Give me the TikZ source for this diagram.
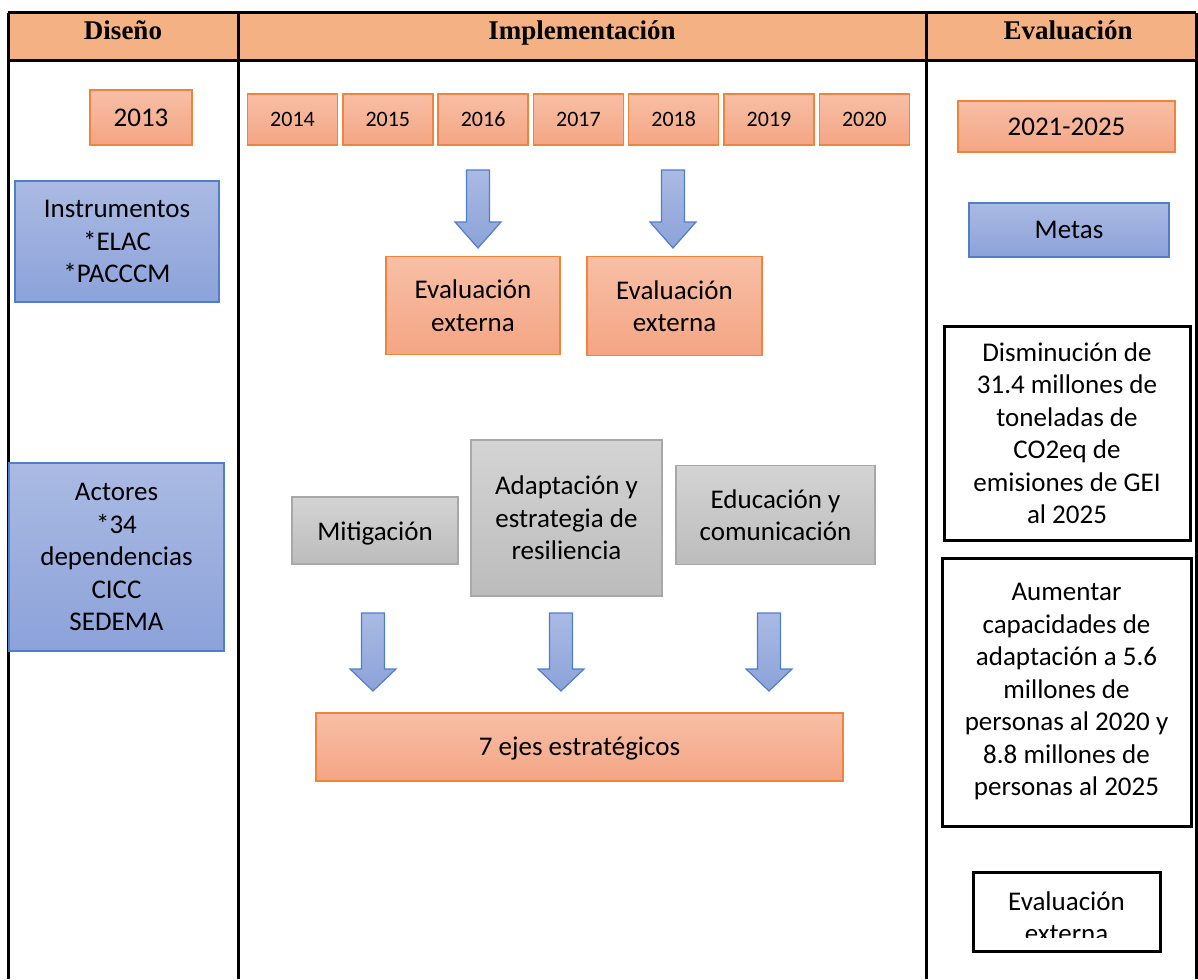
\documentclass[tikz,border=0pt]{standalone}
\usepackage{fontspec}
\setmainfont{Carlito}
\newfontfamily\hdrfont{Liberation Serif}
\usetikzlibrary{positioning}
\definecolor{hdrorange}{HTML}{F4B183}
\definecolor{orline}{HTML}{F0843C}
\definecolor{ortop}{HTML}{F8BFA6}
\definecolor{orbot}{HTML}{F4A584}
\definecolor{blline}{HTML}{4F7FCB}
\definecolor{bltop}{HTML}{AABAE3}
\definecolor{blbot}{HTML}{8CA2D9}
\definecolor{grline}{HTML}{A8A8A8}
\definecolor{grtop}{HTML}{D4D4D4}
\definecolor{grbot}{HTML}{BCBCBC}
\tikzset{
  orbox/.style={draw=orline,line width=1.5pt,top color=ortop,bottom color=orbot,align=center,inner sep=0pt},
  blbox/.style={draw=blline,line width=1.2pt,top color=bltop,bottom color=blbot,align=center,inner sep=0pt},
  grbox/.style={draw=grline,line width=1.5pt,top color=grtop,bottom color=grbot,align=center,inner sep=0pt},
  wbox/.style={draw=black,line width=3pt,fill=white,align=center,inner sep=0pt},
  hdr/.style={font=\hdrfont\bfseries\fontsize{27}{32}\selectfont,text height=19pt,text depth=6pt},
  blarrow/.style={draw=blline,line width=1.2pt,top color=bltop,bottom color=blbot},
}
% block arrow: x, top, neck, tip
\newcommand{\blockarr}[4]{%
  \draw[blarrow]({#1-11.5},#2)--({#1+11.5},#2)--({#1+11.5},#3)--({#1+23},#3)
    --(#1,#4)--({#1-23},#3)--({#1-11.5},#3)--cycle;}
\begin{document}
\begin{tikzpicture}[x=1pt,y=-1pt,font=\fontsize{27}{32.5}\selectfont]
\useasboundingbox(0,0)rectangle(1198,979);
% table
\fill[hdrorange](8,13)rectangle(1196,61);
\draw[line width=3pt](8,13)--(1196,13);
\draw[line width=3pt](8,61)--(1196,61);
\foreach \x in {8,238,926,1196}
  \draw[line width=3pt](\x,13)--(\x,979);
\node[hdr](hdis) at (123,33){Diseño};
\node[hdr](himp) at (582,33){Implementación};
\node[hdr](heva) at (1068,33){Evaluación};
% diseno
\node[orbox,minimum width=102pt,minimum height=55pt](y2013) at (141,117.5){2013};
\node[blbox,minimum width=204pt,minimum height=121pt](instr) at (117,241.5){Instrumentos\\*ELAC\\*PACCCM};
\node[blbox,minimum width=215pt,minimum height=188pt](actores) at (116.5,557){Actores\\*34\\dependencias\\CICC\\SEDEMA};
% implementacion
\foreach \i/\yr in {0/2014,1/2015,2/2016,3/2017,4/2018,5/2019,6/2020}
  \node[orbox,minimum width=90pt,minimum height=51pt,font=\fontsize{22}{26}\selectfont]
    (y\yr) at ({292.5+95.3*\i},119.5){\yr};
\blockarr{478}{170}{222}{248}
\blockarr{673}{170}{222}{248}
\node[orbox,minimum width=174pt,minimum height=98pt](evext1) at (473,305.5){Evaluación\\externa};
\node[orbox,minimum width=175pt,minimum height=99pt](evext2) at (674.5,306){Evaluación\\externa};
\node[grbox,minimum width=166pt,minimum height=67pt,text height=23pt,text depth=4pt](mitig) at (375,530.5){Mitigación};
\node[grbox,minimum width=191pt,minimum height=156pt](adapt) at (566.5,518){Adaptación y\\estrategia de\\resiliencia};
\node[grbox,minimum width=199pt,minimum height=99pt](educ) at (775.5,515){Educación y\\comunicación};
\blockarr{373}{613}{669}{691}
\blockarr{561}{613}{669}{691}
\blockarr{769}{613}{669}{691}
\node[orbox,minimum width=527pt,minimum height=68pt,text height=21pt,text depth=4pt](ejes) at (579.5,747){7 ejes estratégicos};
% evaluacion
\node[orbox,minimum width=217pt,minimum height=51pt](y2021) at (1066.5,126.5){2021-2025};
\node[blbox,minimum width=200pt,minimum height=54pt](metas) at (1069,230){Metas};
\node[wbox,minimum width=246pt,minimum height=214pt](dismin) at (1067,433){Disminución de\\31.4 millones de\\toneladas de\\CO2eq de\\emisiones de GEI\\al 2025};
\node[wbox,minimum width=249pt,minimum height=268pt](aument) at (1066.5,692){Aumentar\\capacidades de\\adaptación a 5.6\\millones de\\personas al 2020 y\\8.8 millones de\\personas al 2025};
\node[wbox,minimum width=187pt,minimum height=79pt](evext3) at (1066.5,911.5){};
\begin{scope}
\clip(975,874)rectangle(1158,937);
\node[align=center](evext3t) at (1066.5,917){Evaluación\\externa};
\end{scope}
\end{tikzpicture}
\end{document}
